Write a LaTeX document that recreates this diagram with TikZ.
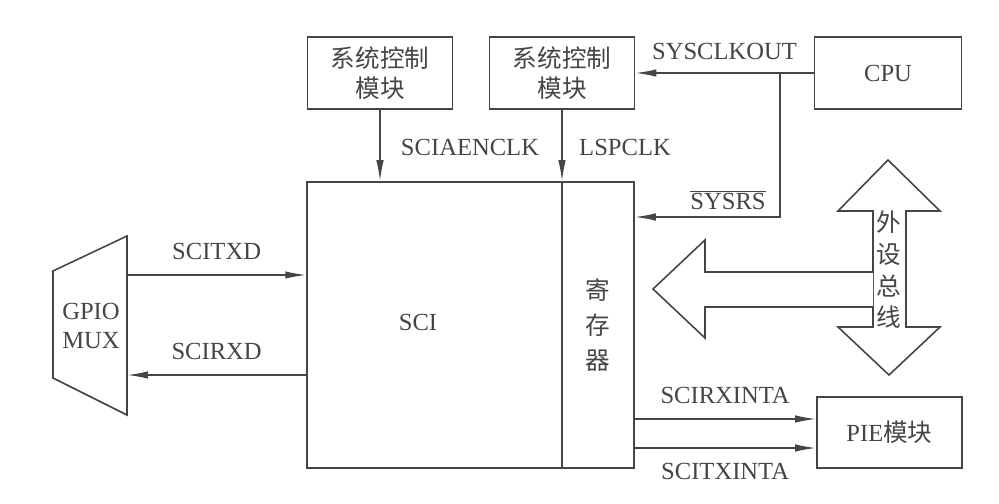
\documentclass[tikz,border=0pt]{standalone}
\usepackage{fontspec}
\setmainfont{Liberation Serif}
\newfontfamily\cjk{Noto Sans CJK SC}
\usetikzlibrary{positioning, arrows.meta, calc}
\definecolor{ink}{HTML}{454545}
\tikzset{
  block/.style={draw, rectangle, line width=0.9pt, minimum width=2.9cm, minimum height=1.44cm,
                align=center, inner sep=0pt},
  sig/.style  ={line width=0.9pt, -{Latex[length=4.2mm,width=1.5mm]}},
  wire/.style ={line width=0.9pt},
  lbl/.style  ={inner sep=0pt, font=\fontsize{14}{17}\selectfont},
  zh/.style   ={font=\cjk\fontsize{14}{17}\selectfont}
}

\begin{document}
\begin{tikzpicture}[x=0.02cm, y=-0.02cm, color=ink, text=ink]
  \useasboundingbox (0,0) rectangle (999,503);

  \node[block, zh] (sys1) at (380,73)   {系统控制\\模块};
  \node[block, zh] (sys2) at (562,73)   {系统控制\\模块};
  \node[block, lbl, minimum width=2.94cm] (cpu) at (888,73) {CPU};
  \node[block, minimum width=6.54cm, minimum height=5.72cm] (sci) at (470.5,325) {};
  \node[block, lbl, minimum height=1.42cm] (pie) at (889.5,432.5) {PIE{\cjk 模块}};

  \node[lbl] (scitext) at (418,322) {SCI};
  \node[zh, align=center, font=\cjk\fontsize{14}{20}\selectfont] (reg) at (598,325) {寄\\存\\器};

  % clocks from the two control blocks
  \draw[sig] (sys1.south) -- (sys1.south |- sci.north);
  \draw[sig] (sys2.south) -- (sys2.south |- sci.north);
  \draw[wire] (sys2.south |- sci.north) -- (sys2.south |- sci.south);
  \node[lbl] (enclk) at (470,147) {SCIAENCLK};
  \node[lbl] (lspclk) at (625,147) {LSPCLK};

  % cpu clock and reset
  \draw[sig] (cpu.west) -- node[lbl, above=7pt] {SYSCLKOUT} (sys2.east);
  \coordinate (br) at (780,73);
  \coordinate (rs) at (780,217);
  \draw[sig] (br) -- (rs) -- (rs -| sci.east);
  \node[lbl] (sysrs) at (728,200) {$\overline{\mbox{SYSRS}}$};

  % gpio mux
  \draw[wire] (53,271) -- (127,236) -- (127,415) -- (53,378) -- cycle;
  \node[lbl, align=center] (mux) at (91,326) {GPIO\\MUX};
  \coordinate (tx) at (127,275);
  \coordinate (rx) at (127,375);
  \draw[sig] (tx) -- node[lbl, above=8pt] {SCITXD} (tx -| sci.west);
  \draw[sig] (rx -| sci.west) -- node[lbl, above=8pt] {SCIRXD} (rx);

  % peripheral bus
  \draw[wire, fill=white] (888,160) -- (940,211) -- (906,211) -- (906,327) -- (940,327)
    -- (889,375) -- (838,327) -- (873,327) -- (873,211) -- (838,211) -- cycle;
  \draw[wire, fill=white] (873,272) -- (705,272) -- (705,240) -- (653,289) -- (705,338)
    -- (705,307) -- (873,307);
  \node[zh, align=center, font=\cjk\fontsize{14}{18}\selectfont] (bus) at (889,270) {外\\设\\总\\线};

  % interrupts to PIE
  \coordinate (rxint) at (634,419);
  \coordinate (txint) at (634,448);
  \draw[sig] (rxint) -- node[lbl, above=8pt] {SCIRXINTA} (rxint -| pie.west);
  \draw[sig] (txint) -- node[lbl, below=8pt] {SCITXINTA} (txint -| pie.west);
\end{tikzpicture}
\end{document}
